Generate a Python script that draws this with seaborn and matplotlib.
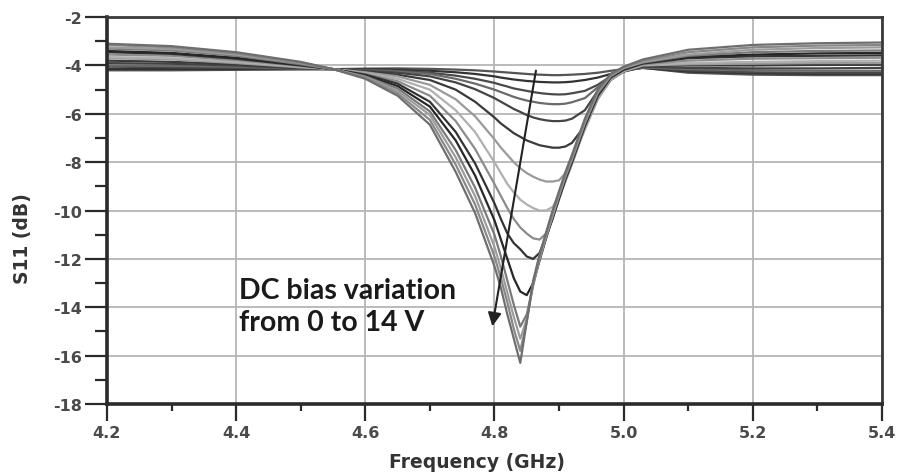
import numpy as np
import pandas as pd
import matplotlib
matplotlib.use("Agg")
import matplotlib.pyplot as plt
import seaborn as sns
from matplotlib.ticker import MultipleLocator, FormatStrFormatter

# frecuencias de muestreo (GHz), mas densas cerca de la resonancia
freq_ghz = [4.20, 4.30, 4.40, 4.50, 4.55, 4.60, 4.65, 4.70, 4.74, 4.77,
            4.80, 4.81, 4.82, 4.83, 4.84, 4.85, 4.86, 4.87, 4.88, 4.89, 4.90, 4.91, 4.92,
            4.94, 4.96, 4.98, 5.00, 5.03, 5.10, 5.20, 5.30, 5.40]

# S11 (dB), una curva por voltaje de polarizacion
s11_00v = [-4.20, -4.20, -4.18, -4.16, -4.15, -4.13, -4.12, -4.14, -4.17, -4.20,
           -4.25, -4.27, -4.29, -4.31, -4.33, -4.35, -4.37, -4.38, -4.39, -4.40, -4.40, -4.39, -4.38,
           -4.35, -4.30, -4.22, -4.15, -4.10, -4.30, -4.38, -4.40, -4.40]
s11_01v = [-4.15, -4.15, -4.15, -4.15, -4.15, -4.15, -4.18, -4.22, -4.28, -4.35,
           -4.45, -4.50, -4.54, -4.58, -4.61, -4.64, -4.66, -4.68, -4.69, -4.70, -4.70, -4.69, -4.67,
           -4.60, -4.50, -4.35, -4.20, -4.10, -4.25, -4.32, -4.35, -4.35]
s11_02v = [-4.05, -4.07, -4.10, -4.14, -4.15, -4.18, -4.22, -4.30, -4.42, -4.55,
           -4.72, -4.80, -4.87, -4.95, -5.00, -5.05, -5.10, -5.14, -5.17, -5.19, -5.20, -5.19, -5.15,
           -5.05, -4.80, -4.45, -4.22, -4.08, -4.20, -4.28, -4.30, -4.30]
s11_03v = [-4.00, -4.02, -4.05, -4.13, -4.15, -4.20, -4.25, -4.35, -4.55, -4.75,
           -5.00, -5.10, -5.20, -5.30, -5.38, -5.45, -5.50, -5.55, -5.58, -5.60, -5.60, -5.58, -5.52,
           -5.35, -4.90, -4.50, -4.25, -4.08, -4.15, -4.20, -4.22, -4.22]
s11_04v = [-3.90, -3.93, -4.00, -4.12, -4.15, -4.22, -4.30, -4.45, -4.70, -4.98,
           -5.35, -5.50, -5.65, -5.80, -5.92, -6.05, -6.15, -6.22, -6.27, -6.30, -6.30, -6.28, -6.20,
           -5.85, -5.05, -4.55, -4.25, -4.05, -4.10, -4.12, -4.12, -4.10]
s11_05v = [-3.80, -3.85, -3.95, -4.10, -4.15, -4.25, -4.38, -4.60, -5.00, -5.50,
           -6.15, -6.40, -6.60, -6.80, -6.95, -7.10, -7.20, -7.30, -7.35, -7.40, -7.40, -7.35, -7.20,
           -6.50, -5.35, -4.60, -4.25, -4.02, -4.00, -4.00, -3.98, -3.97]
s11_06v = [-3.70, -3.75, -3.90, -4.08, -4.15, -4.28, -4.45, -4.80, -5.40, -6.10,
           -7.05, -7.40, -7.70, -8.00, -8.25, -8.45, -8.60, -8.72, -8.80, -8.80, -8.75, -8.45, -7.95,
           -6.65, -5.40, -4.60, -4.25, -4.00, -3.95, -3.92, -3.90, -3.90]
s11_07v = [-3.65, -3.70, -3.85, -4.05, -4.15, -4.32, -4.55, -5.00, -5.85, -6.75,
           -8.00, -8.45, -8.90, -9.25, -9.55, -9.75, -9.90, -10.0, -10.0, -9.85, -9.45, -8.80, -8.10,
           -6.60, -5.35, -4.55, -4.22, -3.98, -3.90, -3.85, -3.82, -3.80]
s11_08v = [-3.55, -3.60, -3.78, -4.02, -4.15, -4.35, -4.65, -5.25, -6.30, -7.45,
           -8.90, -9.40, -9.90, -10.35, -10.7, -10.95, -11.15, -11.2, -10.95, -10.3, -9.55, -8.75, -8.05,
           -6.55, -5.30, -4.52, -4.20, -3.95, -3.80, -3.72, -3.70, -3.68]
s11_09v = [-3.45, -3.52, -3.72, -4.00, -4.15, -4.38, -4.75, -5.50, -6.75, -8.05,
           -9.70, -10.35, -10.95, -11.35, -11.6, -11.9, -12.0, -11.75, -11.05, -10.35, -9.50, -8.70, -8.00,
           -6.50, -5.25, -4.50, -4.18, -3.92, -3.70, -3.62, -3.60, -3.58]
s11_10v = [-3.40, -3.48, -3.68, -3.98, -4.15, -4.42, -4.85, -5.70, -7.10, -8.55,
           -10.4, -11.2, -12.0, -12.8, -13.35, -13.5, -13.0, -12.05, -11.15, -10.3, -9.45, -8.65, -7.95,
           -6.45, -5.20, -4.48, -4.15, -3.90, -3.65, -3.55, -3.50, -3.48]
s11_11v = [-3.30, -3.38, -3.60, -3.95, -4.15, -4.45, -4.95, -5.90, -7.50, -9.05,
           -11.0, -11.9, -12.9, -13.9, -14.8, -14.3, -13.1, -12.0, -11.1, -10.25, -9.40, -8.60, -7.90,
           -6.40, -5.15, -4.45, -4.12, -3.88, -3.60, -3.45, -3.40, -3.38]
s11_12v = [-3.25, -3.32, -3.55, -3.90, -4.15, -4.48, -5.05, -6.05, -7.80, -9.40,
           -11.5, -12.4, -13.4, -14.4, -15.3, -14.5, -13.0, -11.95, -11.05, -10.2, -9.35, -8.55, -7.85,
           -6.35, -5.10, -4.42, -4.10, -3.85, -3.55, -3.35, -3.28, -3.25]
s11_13v = [-3.15, -3.25, -3.50, -3.88, -4.15, -4.50, -5.15, -6.25, -8.10, -9.75,
           -11.9, -12.8, -13.8, -14.9, -15.8, -14.6, -13.0, -11.9, -11.0, -10.1, -9.30, -8.50, -7.80,
           -6.30, -5.05, -4.40, -4.08, -3.80, -3.45, -3.25, -3.18, -3.15]
s11_14v = [-3.10, -3.20, -3.45, -3.85, -4.15, -4.55, -5.25, -6.45, -8.40, -10.1,
           -12.3, -13.2, -14.3, -15.3, -16.3, -14.6, -12.9, -11.8, -10.9, -10.0, -9.20, -8.40, -7.70,
           -6.20, -5.00, -4.35, -4.05, -3.75, -3.35, -3.15, -3.08, -3.05]

curvas = [s11_00v, s11_01v, s11_02v, s11_03v, s11_04v, s11_05v, s11_06v, s11_07v,
          s11_08v, s11_09v, s11_10v, s11_11v, s11_12v, s11_13v, s11_14v]
voltajes = list(range(15))

# tonos de gris de cada curva
grises = ["#555555", "#333333", "#4a4a4a", "#6a6a6a", "#444444", "#3a3a3a", "#9a9a9a",
          "#b0b0b0", "#8c8c8c", "#333333", "#262626", "#7a7a7a", "#9c9c9c", "#888888", "#6e6e6e"]

# tabla larga para seaborn
filas = []
for v, s in zip(voltajes, curvas):
    for f, val in zip(freq_ghz, s):
        filas.append({"freq": f, "s11": val, "bias": v})
df = pd.DataFrame(filas)

sns.set_style("white")
plt.rcParams["font.family"] = ["DejaVu Sans"]

fig = plt.figure(figsize=(8.99, 4.77), dpi=100)
ax = fig.add_axes([0.119, 0.151, 0.862, 0.811])

sns.lineplot(data=df, x="freq", y="s11", hue="bias", palette=dict(zip(voltajes, grises)),
             estimator=None, sort=False, linewidth=1.6, legend=False, ax=ax)

ax.set_xlim(4.2, 5.4)
ax.set_ylim(-18, -2)
ax.xaxis.set_major_locator(MultipleLocator(0.2))
ax.xaxis.set_minor_locator(MultipleLocator(0.1))
ax.yaxis.set_major_locator(MultipleLocator(2))
ax.yaxis.set_minor_locator(MultipleLocator(1))
ax.xaxis.set_major_formatter(FormatStrFormatter("%.1f"))
ax.yaxis.set_major_formatter(FormatStrFormatter("%d"))

ax.grid(True, which="major", color="#b5b5b5", linewidth=1.3)
ax.set_axisbelow(True)

ax.tick_params(which="both", direction="out", width=1.6, color="#2a2a2a",
               labelsize=11.5, labelcolor="#4a4a4a")
ax.tick_params(axis="y", which="major", length=16, pad=2)
ax.tick_params(axis="y", which="minor", length=8.5)
ax.tick_params(axis="x", which="major", length=12, pad=3)
ax.tick_params(axis="x", which="minor", length=5)
ax.tick_params(axis="x", which="both", bottom=True, top=False)
ax.tick_params(axis="y", which="both", left=True, right=False)
for lab in ax.get_xticklabels() + ax.get_yticklabels():
    lab.set_fontweight("bold")

for lado in ["left", "bottom"]:
    ax.spines[lado].set_linewidth(2.6)
    ax.spines[lado].set_color("#2a2a2a")
for lado in ["top", "right"]:
    ax.spines[lado].set_linewidth(2.0)
    ax.spines[lado].set_color("#3a3a3a")

ax.set_xlabel("Frequency (GHz)", fontsize=13.5, fontweight="bold", color="#333333")
ax.set_ylabel("S11 (dB)", fontsize=13.5, fontweight="bold", color="#333333")
ax.xaxis.set_label_coords(0.477, -0.125)
ax.yaxis.set_label_coords(-0.097, 0.43)

# flecha y texto de la variacion de polarizacion
ax.annotate("", xy=(4.796, -14.9), xytext=(4.865, -4.1),
            arrowprops=dict(arrowstyle="-|>", color="#222222", lw=1.5, mutation_scale=20))
ax.text(4.405, -13.95, "DC bias variation\nfrom 0 to 14 V", fontsize=20.5, fontweight="bold",
        color="#1a1a1a", family=["Lato", "DejaVu Sans"], linespacing=1.3, va="center")

fig.savefig("out.png", dpi=100)
